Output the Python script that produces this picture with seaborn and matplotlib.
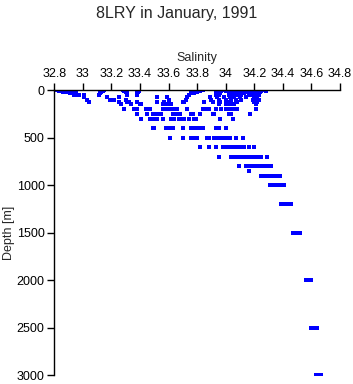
import pandas as pd
import matplotlib
matplotlib.use('Agg')
import matplotlib.pyplot as plt
import seaborn as sns

# depth levels [m] and salinity readings at each level
levels = [0, 10, 20, 30, 50, 75, 100, 125, 150, 200, 250, 300, 400, 500,
          600, 700, 800, 850, 900, 1000, 1200, 1500, 2000, 2500, 3000]

sal_surface = [
    [32.82, 32.83, 32.85, 32.87, 33.15, 33.28, 33.39, 33.84, 33.95, 33.98,
     34.03, 34.06, 34.09, 34.12, 34.15, 34.18, 34.24, 34.27],
    [32.83, 32.85, 32.86, 32.88, 32.90, 33.14, 33.29, 33.39, 33.82, 33.94,
     33.97, 34.00, 34.04, 34.07, 34.10, 34.13, 34.17, 34.21, 34.25, 34.28],
    [32.86, 32.89, 32.90, 32.92, 33.13, 33.30, 33.385, 33.80, 33.93, 33.96,
     34.02, 34.05, 34.08, 34.11, 34.15, 34.20, 34.22, 34.24],
    [32.91, 32.93, 32.95, 33.12, 33.31, 33.38, 33.76, 33.78, 33.93, 33.96,
     34.03, 34.06, 34.09, 34.13, 34.16, 34.20, 34.22],
    [32.94, 32.96, 32.97, 33.01, 33.11, 33.31, 33.38, 33.74, 33.93, 33.95,
     34.02, 34.05, 34.08, 34.11, 34.17, 34.21, 34.23],
    [33.01, 33.17, 33.25, 33.52, 33.59, 33.73, 33.89, 33.94, 33.99, 34.03,
     34.06, 34.10, 34.14, 34.20, 34.22],
    [33.03, 33.19, 33.21, 33.22, 33.30, 33.60, 33.72, 33.90, 33.95, 34.00,
     34.04, 34.07, 34.11, 34.19, 34.21, 34.23],
    [33.04, 33.25, 33.31, 33.32, 33.38, 33.52, 33.57, 33.70, 33.71, 33.85,
     33.91, 33.96, 34.01, 34.04, 34.08, 34.20, 34.22],
    [33.27, 33.34, 33.40, 33.41, 33.56, 33.58, 33.60, 33.62, 33.95, 34.00,
     34.03, 34.06, 34.21],
]

sal_middle = [
    [33.29, 33.36, 33.38, 33.44, 33.46, 33.47, 33.56, 33.58, 33.61, 33.63,
     33.66, 33.73, 33.84, 33.86, 33.88, 33.93, 33.97, 34.00, 34.03, 34.05,
     34.08, 34.21],
    [33.38, 33.45, 33.49, 33.51, 33.53, 33.55, 33.63, 33.65, 33.67, 33.68,
     33.76, 33.77, 33.82, 33.91, 33.92, 34.02, 34.04, 34.17],
    [33.41, 33.47, 33.49, 33.51, 33.52, 33.56, 33.62, 33.64, 33.67, 33.69,
     33.71, 33.74, 33.78, 33.79, 33.96, 34.05],
    [33.49, 33.50, 33.58, 33.60, 33.63, 33.70, 33.76, 33.78, 33.80, 33.82,
     33.84, 33.93, 33.95, 34.00],
    [33.61, 33.70, 33.76, 33.78, 33.80, 33.87, 33.88, 33.92, 33.94, 33.96,
     33.98, 34.00, 34.03, 34.07, 34.12],
    [33.82, 33.88, 33.93, 33.98, 34.00, 34.02, 34.04, 34.06, 34.08, 34.11,
     34.13, 34.16, 34.20],
    [33.95, 34.04, 34.06, 34.08, 34.10, 34.13, 34.15, 34.17, 34.19, 34.21,
     34.23, 34.25, 34.29],
    [34.09, 34.14, 34.17, 34.19, 34.21, 34.23, 34.25, 34.27, 34.29, 34.31,
     34.32],
]

sal_deep = [
    [34.16],
    [34.25, 34.27, 34.29, 34.31, 34.33, 34.35, 34.37, 34.38],
    [34.31, 34.33, 34.35, 34.37, 34.39, 34.41],
    [34.39, 34.41, 34.43, 34.45, 34.46],
    [34.47, 34.49, 34.51, 34.52],
    [34.56, 34.58, 34.60],
    [34.60, 34.62, 34.64],
    [34.63, 34.65, 34.67],
]

rows = []
for d, ss in zip(levels, sal_surface + sal_middle + sal_deep):
    for s in ss:
        rows.append((s, d))
df = pd.DataFrame(rows, columns=['Salinity', 'Depth'])

sns.set_style('ticks')
plt.rcParams['font.family'] = ['Liberation Sans', 'DejaVu Sans']

fig = plt.figure(figsize=(3.53, 3.84), dpi=100)
ax = fig.add_axes([0.1538, 0.0234, 0.8095, 0.7422])

sns.scatterplot(data=df, x='Salinity', y='Depth', ax=ax, marker='s', s=5,
                color='#0000ff', linewidth=0)

ax.set_xlim(32.8, 34.8)
ax.set_ylim(3000, 0)
ax.set_xticks([32.8, 33, 33.2, 33.4, 33.6, 33.8, 34, 34.2, 34.4, 34.6, 34.8])
ax.set_xticklabels(['32.8', '33', '33.2', '33.4', '33.6', '33.8', '34',
                    '34.2', '34.4', '34.6', '34.8'])
ax.set_yticks([0, 500, 1000, 1500, 2000, 2500, 3000])
ax.xaxis.tick_top()
ax.xaxis.set_label_position('top')
ax.tick_params(axis='both', labelsize=9, length=5, width=1, color='black',
               labelcolor='black', pad=2)
ax.set_xlabel('Salinity', fontsize=9, labelpad=5)
ax.set_ylabel('Depth [m]', fontsize=9, labelpad=1)

for side in ['right', 'bottom']:
    ax.spines[side].set_visible(False)
for side in ['left', 'top']:
    ax.spines[side].set_color('black')
    ax.spines[side].set_linewidth(1)

fig.suptitle('8LRY in January, 1991', fontsize=11.5, y=0.985)

fig.savefig('out.png', dpi=100)
